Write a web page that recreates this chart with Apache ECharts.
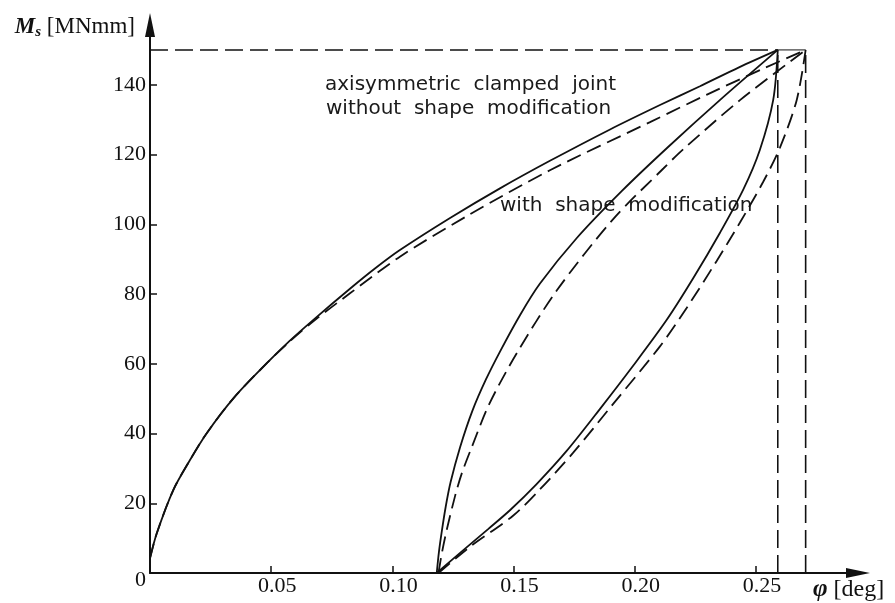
<!DOCTYPE html>
<html>
<head>
<meta charset="utf-8">
<script src="https://cdn.jsdelivr.net/npm/echarts@6/dist/echarts.min.js"></script>
<style>
html,body{margin:0;padding:0;background:#fff;}
#chart{width:895px;height:603px;}
</style>
</head>
<body>
<div id="chart"></div>
<script>
// ---- Data ----
// x: rotation angle phi [deg], y: moment M_s [MNmm]
const xTicks = [0.05, 0.10, 0.15, 0.20, 0.25];
const yTicks = [0, 20, 40, 60, 80, 100, 120, 140];

// Solid curves (end at phi = 0.259)
const phiA = [0, 0.0028, 0.0096, 0.0165, 0.0234, 0.0344, 0.0481, 0.0575, 0.0674, 0.0825, 0.0928, 0.1031, 0.1238, 0.1444, 0.165, 0.1898, 0.2104, 0.2269, 0.243, 0.259];
const mA   = [4.2, 11.4, 23.8, 32.4, 40.1, 50.1, 60.1, 66.5, 72.6, 81.5, 87.3, 92.6, 101.8, 110.3, 118.2, 127.2, 134.2, 139.6, 145.0, 150];

const phiB = [0.1183, 0.1192, 0.1204, 0.122, 0.124, 0.1279, 0.133, 0.1386, 0.1444, 0.1527, 0.1609, 0.176, 0.1946, 0.2132, 0.2351, 0.259];
const mB   = [0, 6, 12, 19, 26, 36, 46.5, 55.5, 63.5, 74, 83, 96, 109.5, 121.8, 135.6, 150];

const phiC = [0.1183, 0.13, 0.1395, 0.1485, 0.1595, 0.1719, 0.1856, 0.1994, 0.2132, 0.2241, 0.2351, 0.2448, 0.2516, 0.2571, 0.259];
const mC   = [0, 7, 12.6, 18, 25.5, 35, 47, 59.5, 72.6, 84.5, 97.5, 110, 121.3, 135.6, 150];

// Dashed curves (end at phi = 0.2705)
const phiAd = [0, 0.0028, 0.0096, 0.0165, 0.0234, 0.0344, 0.0481, 0.0575, 0.0674, 0.0825, 0.1031, 0.1306, 0.165, 0.2063, 0.2298, 0.2529, 0.2705];
const mAd   = [4.2, 11.4, 23.8, 32.4, 40.1, 50.1, 60.1, 66.3, 72.2, 80.2, 90.7, 102.3, 115.5, 129.3, 137.2, 144.6, 150];

const phiBd = [0.119, 0.1205, 0.1224, 0.1258, 0.1286, 0.1327, 0.14, 0.1513, 0.1678, 0.1911, 0.2118, 0.22, 0.2434, 0.2705];
const mBd   = [0, 6, 12.3, 21.9, 28.5, 36, 48.5, 63, 81, 101.5, 116, 121.5, 135.6, 150];

const phiCd = [0.119, 0.132, 0.1499, 0.1609, 0.1746, 0.1911, 0.2104, 0.2214, 0.2338, 0.2434, 0.253, 0.2599, 0.2668, 0.2705];
const mCd   = [0, 7.5, 16.5, 24, 34.5, 48.5, 65, 76, 89.5, 100.5, 112.2, 122, 135.6, 150];

// Reference (limit) values
const mMax = 150;
const phiSolidEnd = 0.259;
const phiDashEnd = 0.2705;

const annotTop = ['axisymmetric  clamped  joint', 'without  shape  modification'];
const annotMid = 'with  shape  modification';

// ---- Chart ----
const zip = (xs, ys) => xs.map((x, i) => [x, ys[i]]);
const ink = '#111';
const serif = '"Liberation Serif", "DejaVu Serif", serif';
const sans = '"DejaVu Sans", sans-serif';

const solidStyle = { color: ink, width: 1.8, type: 'solid' };
const dashStyle = { color: ink, width: 1.8, type: [15, 7] };
const refDash = { color: ink, width: 1.6, type: [18, 7] };

function curve(data, style) {
  return { type: 'line', data: data, showSymbol: false, symbol: 'none', smooth: 0.3,
           lineStyle: style, silent: true, z: 3 };
}

const chart = echarts.init(document.getElementById('chart'), null, { renderer: 'canvas' });
chart.setOption({
  animation: false,
  backgroundColor: '#fff',
  grid: { left: 150, right: 37, top: 25, bottom: 30 },
  xAxis: {
    type: 'value', min: 0, max: 0.2921,
    name: '{p|φ}{n| [deg]}',
    nameLocation: 'end', nameGap: -45,
    nameTextStyle: {
      align: 'left', verticalAlign: 'top', padding: [4, 0, 0, 0],
      rich: {
        p: { fontFamily: serif, fontStyle: 'italic', fontWeight: 'bold', fontSize: 25, color: ink },
        n: { fontFamily: serif, fontSize: 24, color: ink }
      }
    },
    axisLine: { show: true, onZero: false, lineStyle: { color: ink, width: 2 },
                symbol: ['none', 'triangle'], symbolSize: [10, 24] },
    axisTick: { show: true, inside: true, length: 7, lineStyle: { color: ink, width: 1.5 },
                customValues: xTicks },
    axisLabel: { show: true, customValues: xTicks, color: ink, fontFamily: serif, fontSize: 22,
                 margin: 2, padding: [0, 0, 0, 12],
                 formatter: v => v.toFixed(2) },
    splitLine: { show: false }
  },
  yAxis: {
    type: 'value', min: 0, max: 157.15,
    name: '{i|M}{s|s}{n| [MNmm]}',
    nameLocation: 'end', nameGap: -2,
    nameTextStyle: {
      align: 'right', verticalAlign: 'middle', padding: [0, 15, 0, 0],
      rich: {
        i: { fontFamily: serif, fontStyle: 'italic', fontWeight: 'bold', fontSize: 23, color: ink },
        s: { fontFamily: serif, fontStyle: 'italic', fontWeight: 'bold', fontSize: 15, color: ink, padding: [10, 0, 0, 0] },
        n: { fontFamily: serif, fontSize: 23, color: ink }
      }
    },
    axisLine: { show: true, onZero: false, lineStyle: { color: ink, width: 2 },
                symbol: ['none', 'triangle'], symbolSize: [10, 24] },
    axisTick: { show: true, inside: true, length: 7, lineStyle: { color: ink, width: 1.5 },
                customValues: yTicks.filter(v => v > 0) },
    axisLabel: { show: true, customValues: yTicks, color: ink, fontFamily: serif, fontSize: 22,
                 margin: 4,
                 formatter: v => v === 0 ? '{z|0}' : String(v),
                 rich: { z: { fontFamily: serif, fontSize: 22, color: ink, padding: [15, 0, 0, 0] } } },
    splitLine: { show: false }
  },
  graphic: [
    { type: 'text', left: 325, top: 75, silent: true,
      style: { text: annotTop[0], fontFamily: sans, fontSize: 20, fill: '#1a1a1a' } },
    { type: 'text', left: 326, top: 99, silent: true,
      style: { text: annotTop[1], fontFamily: sans, fontSize: 20, fill: '#1a1a1a' } },
    { type: 'text', left: 500, top: 196, silent: true,
      style: { text: annotMid, fontFamily: sans, fontSize: 20, fill: '#1a1a1a' } }
  ],
  series: [
    // limit lines
    { type: 'line', data: [[0, mMax], [phiSolidEnd, mMax]], symbol: 'none', lineStyle: refDash, silent: true },
    { type: 'line', data: [[phiSolidEnd, mMax], [phiDashEnd, mMax]], symbol: 'none', lineStyle: { color: ink, width: 1 }, silent: true },
    { type: 'line', data: [[phiSolidEnd, 0], [phiSolidEnd, mMax]], symbol: 'none', lineStyle: refDash, silent: true },
    { type: 'line', data: [[phiDashEnd, 0], [phiDashEnd, mMax]], symbol: 'none', lineStyle: refDash, silent: true },
    // solid curves
    curve(zip(phiA, mA), solidStyle),
    curve(zip(phiB, mB), solidStyle),
    curve(zip(phiC, mC), solidStyle),
    // dashed curves
    curve(zip(phiAd, mAd), dashStyle),
    curve(zip(phiBd, mBd), dashStyle),
    curve(zip(phiCd, mCd), dashStyle)
  ]
});
</script>
</body>
</html>
